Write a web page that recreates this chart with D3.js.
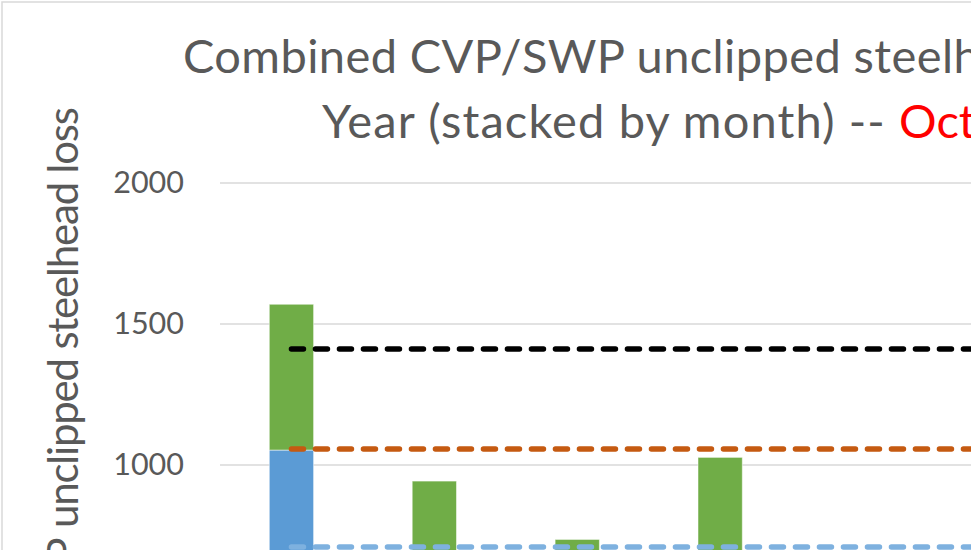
<!DOCTYPE html>
<html lang="en-us">
  <head>
    <meta charset="UTF-8">
    <title>CVP/SWP steelhead loss</title>
    <script src="https://cdn.jsdelivr.net/npm/d3@7"></script>
    <style>
      body { margin: 0; background: #fff; }
      text { font-family: Lato, "Open Sans", sans-serif; fill: #595959; }
    </style>
  </head>
  <body>
    <svg id=chart width="971" height="550"></svg>
    <script>
        // water years on the x axis (labels fall below the visible crop)
        var years = ["WY1", "WY2", "WY3", "WY4", "WY5", "WY6"];
        // stacked monthly loss, lower segment (blue) and upper segment (green)
        var lowerMonth = [1053, 0, 0, 0, 0, 0];
        var upperMonth = [517, 943, 736, 1027, 450, 600];
        // reference levels drawn as dashed lines
        var refNames = ["black", "orange", "lightblue"];
        var refValues = [1411, 1057, 709];
        var yTicks = [0, 500, 1000, 1500, 2000];

        var w = 971;
        var h = 550;
        var svg = d3.select("#chart");

        // chart frame
        svg.append("rect")
            .attr("x", 2).attr("y", 2)
            .attr("width", 2000).attr("height", 2000)
            .attr("fill", "none")
            .attr("stroke", "#d9d9d9")
            .attr("stroke-width", 1.5);

        var x = d3.scaleBand().domain(years).range([220, 220 + 142.9 * years.length]).paddingInner(0.69).paddingOuter(0.345);
        var y = d3.scaleLinear().domain([0, 2000]).range([747, 183]);

        // gridlines
        svg.append("g").selectAll("line").data(yTicks).enter().append("line")
            .attr("x1", 220).attr("x2", w)
            .attr("y1", function (d) { return y(d); })
            .attr("y2", function (d) { return y(d); })
            .attr("stroke", "#d9d9d9")
            .attr("stroke-width", 1.5);

        var yAxis = svg.append("g")
            .attr("transform", "translate(184,0)")
            .call(d3.axisLeft(y).tickValues(yTicks).tickFormat(d3.format("d")).tickSize(0).tickPadding(0));
        yAxis.select(".domain").remove();
        yAxis.selectAll("text")
            .attr("font-size", 30.5)
            .style("font-family", "Lato, sans-serif")
            .attr("fill", "#595959");

        // stacked bars
        var rows = years.map(function (d, i) {
            return { year: d, lower: lowerMonth[i], upper: upperMonth[i] };
        });
        var stack = d3.stack().keys(["lower", "upper"])(rows);
        var colors = { lower: "#5b9bd5", upper: "#70ad47" };
        svg.append("g").selectAll("g").data(stack).enter().append("g")
            .attr("fill", function (s) { return colors[s.key]; })
            .selectAll("rect").data(function (s) { return s; }).enter().append("rect")
            .attr("x", function (d) { return x(d.data.year); })
            .attr("y", function (d) { return y(d[1]); })
            .attr("width", x.bandwidth())
            .attr("height", function (d) { return y(d[0]) - y(d[1]); })
            .attr("stroke", "#fff")
            .attr("stroke-opacity", 0.5)
            .attr("stroke-width", 1);

        // dashed reference lines
        var refColors = { black: "#000000", orange: "#c55a11", lightblue: "#7eb1df" };
        var xStart = x(years[0]) + x.bandwidth() / 2;
        var xEnd = x(years[years.length - 1]) + x.bandwidth() / 2;
        svg.append("g").selectAll("line").data(refValues).enter().append("line")
            .attr("x1", xStart).attr("x2", xEnd)
            .attr("y1", function (d) { return y(d); })
            .attr("y2", function (d) { return y(d); })
            .attr("stroke", function (d, i) { return refColors[refNames[i]]; })
            .attr("stroke-width", 5.5)
            .attr("stroke-linecap", "round")
            .attr("stroke-dasharray", "12 12");

        // title
        var t1 = svg.append("text")
            .attr("x", 183).attr("y", 73)
            .attr("font-size", 47);
        t1.append("tspan").attr("textLength", 770).attr("lengthAdjust", "spacing").text("Combined CVP/SWP unclipped steel");
        t1.append("tspan").text("head loss by Water");
        var t2 = svg.append("text")
            .attr("x", 322).attr("y", 138)
            .attr("font-size", 47);
        t2.append("tspan").attr("textLength", 576).attr("lengthAdjust", "spacing").text("Year (stacked by month) -- ");
        t2.append("tspan").style("fill", "#ff0000").text("Oct");

        // y axis title
        var yt = svg.append("text")
            .attr("transform", "translate(78,107) rotate(-90)")
            .attr("text-anchor", "end")
            .attr("font-size", 42);
        yt.append("tspan").text("CVP/SWP ");
        yt.append("tspan").attr("textLength", 421).attr("lengthAdjust", "spacing").text("unclipped steelhead loss");
    </script>
  </body>
</html>
